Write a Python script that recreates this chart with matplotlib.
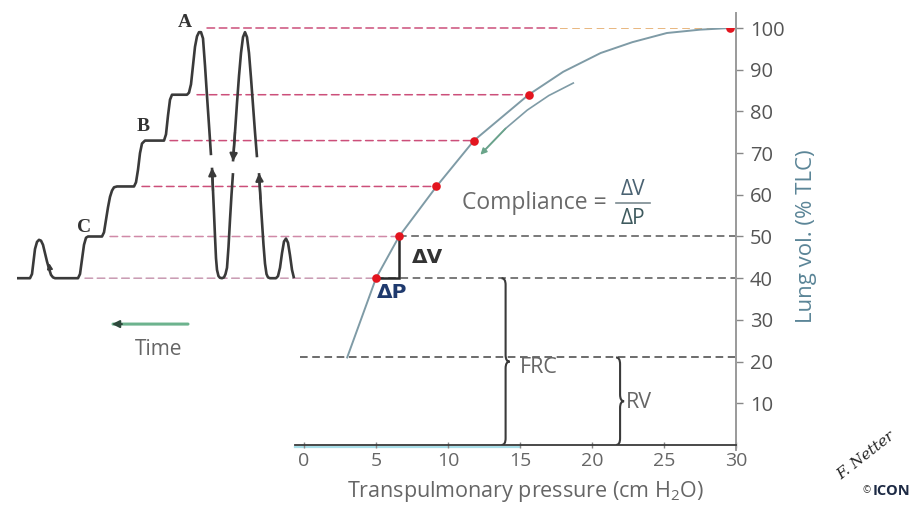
import matplotlib
matplotlib.use("Agg")
import matplotlib.pyplot as plt
from matplotlib.patches import ConnectionPatch, PathPatch
from matplotlib.path import Path

plt.rcParams['font.family'] = ['Open Sans', 'DejaVu Sans']
plt.rcParams['mathtext.fontset'] = 'custom'
plt.rcParams['mathtext.rm'] = 'Open Sans'

# ---- pressure-volume curve (cm H2O vs % TLC) ----
pressure_curve = [3.0, 5.0, 6.6, 9.2, 11.8, 15.6, 18.0, 20.6, 22.8, 25.2, 27.5, 29.6]
volume_curve = [21, 40, 50, 62, 73, 84, 89.5, 94, 96.6, 98.8, 99.6, 100]

# measured points on the curve
pressure_pts = [5.0, 6.6, 9.2, 11.8, 15.6, 29.6]
volume_pts = [40, 50, 62, 73, 84, 100]

# deflation arrow drawn alongside the curve
pressure_ret = [18.7, 17.0, 15.5, 14.0, 12.4]
volume_ret = [86.8, 83.8, 80.3, 75.9, 70.2]

rv_level = 21
frc_level = 40

x_ticks = [0, 5, 10, 15, 20, 25, 30]
y_ticks = [10, 20, 30, 40, 50, 60, 70, 80, 90, 100]

# ---- spirogram (time in arbitrary units, volume in % TLC) ----
spiro1_t = [17, 30, 32, 33.5, 35, 37, 39, 41, 43, 45, 47, 49, 51, 53, 55, 78, 80, 82, 84, 86, 88,
            102, 104, 106, 108, 110, 112, 114, 117, 134, 136, 138, 140, 142, 145,
            164, 166, 168, 170, 172, 187, 189, 191, 193, 195, 197, 199, 201, 203, 205, 207, 209, 211]
spiro1_v = [40, 40, 41, 44, 47, 48.7, 49.2, 49, 48, 46, 44, 42.3, 40.8, 40.2, 40, 40, 41, 44.5, 48, 49.7, 50,
            50, 51, 54, 57, 59.5, 61, 61.8, 62, 62, 63, 66, 70, 72.3, 73,
            73, 74.5, 79, 82.8, 84, 84, 84.5, 86.5, 91, 95.5, 98, 99, 99, 97.5, 91, 83.7, 76.7, 69.5]
spiro2_t = [212, 213, 214, 215, 216, 217, 218.5, 220, 222, 224, 225.5, 227, 228.5, 230, 231.5, 233]
spiro2_v = [66.5, 61, 55.6, 50, 44.8, 42, 40.5, 40.1, 40, 40.2, 41, 42.5, 47.5, 54, 60, 65.2]
spiro3_t = [233, 235, 237, 239, 241, 243, 245, 247, 249, 251, 253, 255, 257]
spiro3_v = [68, 75, 82, 88.5, 94, 97.8, 99, 97.8, 94, 88, 81.5, 75, 69]
spiro4_t = [259, 260.5, 262, 263.5, 265, 266.5, 268, 270, 272, 274, 276, 278, 280, 282, 284, 286, 288, 290, 292, 294]
spiro4_v = [65.2, 59, 53.5, 48, 43.5, 41, 40.2, 40, 40, 40, 40, 40.5, 42.5, 46, 48.8, 49.5, 48.5, 45.5, 42, 40]

# where each guide line leaves the spirogram
guide_t = [85, 110, 142, 170, 197, 207]

W, H = 914, 511
fig = plt.figure(figsize=(W / 100, H / 100), dpi=100)
fig.patch.set_facecolor('white')

bottom = (H - 445) / H
height = 417 / H
ax = fig.add_axes([295 / W, bottom, 441 / W, height])
sp = fig.add_axes([0, bottom, 300 / W, height])
for a in (ax, sp):
    a.patch.set_visible(False)

ax.set_xlim(-0.625, 30)
ax.set_ylim(0, 100)
sp.set_xlim(0, 300)
sp.set_ylim(0, 100)
sp.axis('off')

for s in ('top', 'left', 'right'):
    ax.spines[s].set_visible(False)
ax.spines['bottom'].set_color('#3a3a3a')
ax.spines['bottom'].set_linewidth(1.3)
ax.plot([-0.625, 15], [-0.45, -0.45], color='#a9dfe9', lw=1.6, clip_on=False, zorder=1)
# volume axis line on the right
ax.plot([30, 30], [-1.3, 103.6], color='#9a9a9a', lw=1.4, clip_on=False, zorder=2)

ax.set_xticks(x_ticks)
ax.set_yticks(y_ticks)
ax.yaxis.tick_right()
ax.tick_params(axis='x', direction='inout', length=4, width=1, color='#888',
               labelsize=14, labelcolor='#666', pad=3)
ax.tick_params(axis='y', direction='out', length=5, width=1, color='#888',
               labelsize=14.5, labelcolor='#555', pad=5)
ax.set_xlabel('Transpulmonary pressure (cm H$_2$O)', fontsize=15.5, color='#666')
ax.xaxis.set_label_coords((525 - 295) / 441, -0.082)
ax.yaxis.set_label_position('right')
ax.set_ylabel('Lung vol. (% TLC)', fontsize=16, color='#5b8597')
ax.yaxis.set_label_coords(1.135, 0.50)

dash = (0, (5, 3))
pink = ['#c99ab2', '#d08aa8', '#cc4f7a', '#cc4f7a', '#cc4f7a', '#cc4f7a']

# guide lines from the spirogram to the curve
for t0, p, v, c in zip(guide_t, pressure_pts, volume_pts, pink):
    end_p = p if v != 100 else 17.8
    con = ConnectionPatch(xyA=(t0, v), coordsA=sp.transData,
                          xyB=(end_p, v), coordsB=ax.transData,
                          color=c, lw=1.1, linestyle=dash, zorder=-1)
    fig.add_artist(con)
ax.plot([17.8, 30], [100, 100], color='#e2a35c', lw=1.1, linestyle=dash, zorder=1)
for p, v in zip(pressure_pts[:2], volume_pts[:2]):
    ax.plot([p, 30], [v, v], color='#555', lw=1.1, linestyle=dash, zorder=1)
ax.plot([-0.3, 30], [rv_level, rv_level], color='#444', lw=1.1, linestyle=dash, zorder=1)

# curve, return arrow and points
ax.plot(pressure_curve, volume_curve, color='#7f9ba6', lw=1.4, zorder=3)
ax.plot(pressure_ret, volume_ret, color='#7f9ba6', lw=1.2, zorder=3)
ax.annotate('', xy=(pressure_ret[-1] - 0.15, volume_ret[-1] - 0.6),
            xytext=(pressure_ret[-2], volume_ret[-2]),
            arrowprops=dict(arrowstyle='-|>', color='#6aa58a', lw=1.2,
                            mutation_scale=9, shrinkA=0, shrinkB=0), zorder=3)
ax.plot(pressure_pts, volume_pts, 'o', color='#e3151f', ms=6.2, mec='none', zorder=5)

# compliance triangle
p0, p1 = pressure_pts[0], pressure_pts[1]
v0, v1 = volume_pts[0], volume_pts[1]
ax.plot([p0, p1, p1], [v0, v0, v1], color='#2a2a2a', lw=1.8, zorder=4,
        solid_joinstyle='miter')
ax.text(7.5, 45, 'ΔV', fontsize=14.5, fontweight='bold', color='#333',
        ha='left', va='center', family=['DejaVu Sans'])
ax.text(6.15, 36.6, 'ΔP', fontsize=14.5, fontweight='bold', color='#1f3a6e',
        ha='center', va='center', family=['DejaVu Sans'])

ax.text(10.95, 58, 'Compliance =', fontsize=16.5, color='#6a6a6a', ha='left', va='center')
ax.text(22.85, 61.2, 'ΔV', fontsize=15, color='#4a6272', ha='center', va='center')
ax.text(22.85, 54.2, 'ΔP', fontsize=15, color='#3e5a5e', ha='center', va='center')
ax.plot([21.7, 24.0], [58, 58], color='#7a8a90', lw=1.2)


def curly_brace(axis, x, y0, y1, w=0.28, d=1.6, **kw):
    ym = (y0 + y1) / 2
    verts = [(x - w, y1), (x, y1), (x, y1 - d),
             (x, ym + d),
             (x, ym), (x + w, ym),
             (x, ym), (x, ym - d),
             (x, y0 + d),
             (x, y0), (x - w, y0)]
    codes = [Path.MOVETO, Path.CURVE3, Path.CURVE3,
             Path.LINETO,
             Path.CURVE3, Path.CURVE3,
             Path.CURVE3, Path.CURVE3,
             Path.LINETO,
             Path.CURVE3, Path.CURVE3]
    axis.add_patch(PathPatch(Path(verts, codes), fill=False, **kw))


curly_brace(ax, 14.0, 0, frc_level, edgecolor='#3a3a3a', lw=1.5, zorder=4)
curly_brace(ax, 21.95, 0, rv_level, edgecolor='#3a3a3a', lw=1.5, zorder=4)
ax.text(15.0, 18.7, 'FRC', fontsize=15.5, color='#666', ha='left', va='center')
ax.text(22.35, 10.3, 'RV', fontsize=15.5, color='#666', ha='left', va='center')

# spirogram trace
trace = dict(color='#3a3a3a', lw=1.9, solid_capstyle='butt', zorder=3)
for tt, vv in ((spiro1_t, spiro1_v), (spiro2_t, spiro2_v),
               (spiro3_t, spiro3_v), (spiro4_t, spiro4_v)):
    sp.plot(tt, vv, **trace)
head = dict(arrowstyle='-|>', color='#3a3a3a', lw=1.6, mutation_scale=11,
            shrinkA=0, shrinkB=0)
sp.annotate('', xy=(spiro2_t[0], spiro2_v[0]), xytext=(spiro2_t[1], spiro2_v[1]),
            arrowprops=head, zorder=4)
sp.annotate('', xy=(spiro3_t[0], spiro3_v[0]), xytext=(spiro3_t[1], spiro3_v[1]),
            arrowprops=head, zorder=4)
sp.annotate('', xy=(spiro4_t[0], spiro4_v[0]), xytext=(spiro4_t[1], spiro4_v[1]),
            arrowprops=head, zorder=4)
sp.annotate('', xy=(49.2, 43.6), xytext=(50.2, 41.6),
            arrowprops=dict(arrowstyle='-|>', color='#3a3a3a', lw=1.2,
                            mutation_scale=8, shrinkA=0, shrinkB=0), zorder=4)

serif_bold = dict(family=['Liberation Serif'], fontweight='bold', fontsize=14,
                  color='#333', ha='center', va='center')
sp.text(185, 101.2, 'A', **serif_bold)
sp.text(143, 76.3, 'B', **serif_bold)
sp.text(84, 52.2, 'C', **serif_bold)

# time arrow
sp.annotate('', xy=(113, 29), xytext=(188, 29),
            arrowprops=dict(arrowstyle='-', color='#6db38e', lw=2.2,
                            shrinkA=0, shrinkB=0))
sp.annotate('', xy=(112, 29), xytext=(122, 29),
            arrowprops=dict(arrowstyle='-|>', color='#2e4a3c', lw=1.4,
                            mutation_scale=11, shrinkA=0, shrinkB=0))
sp.text(159, 22.8, 'Time', fontsize=15, color='#666', ha='center', va='center')

# signature and credit
fig.text(866 / W, 1 - 456 / H, 'F. Netter', rotation=38, fontsize=11,
         style='italic', family=['DejaVu Serif'], color='#222',
         ha='center', va='center')
fig.text(867 / W, 1 - 491 / H, '©', fontsize=7, color='#333', ha='center', va='center')
fig.text(873 / W, 1 - 491 / H, 'ICON', fontsize=10.5, fontweight='bold',
         color='#1d2a44', ha='left', va='center')

fig.savefig('out.png', dpi=100)
